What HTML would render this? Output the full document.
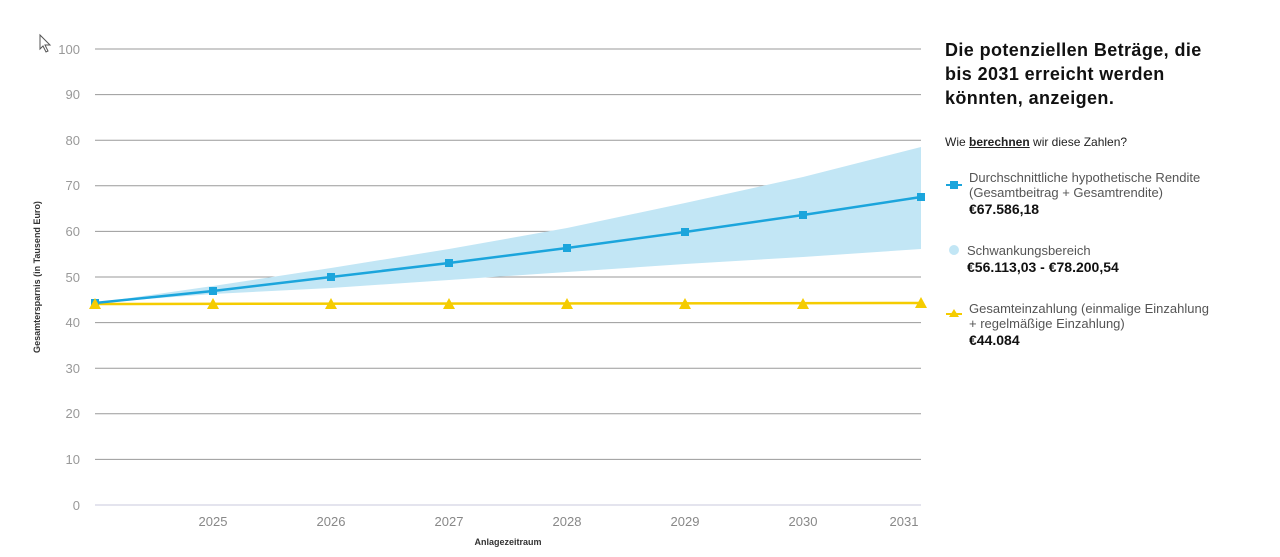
<!DOCTYPE html>
<html><head><meta charset="utf-8"><style>
body{margin:0;width:1280px;height:557px;background:#fff;font-family:"Liberation Sans",sans-serif;overflow:hidden;position:relative}
.t{position:absolute;color:#222}
</style></head><body>
<svg width="1280" height="557" style="position:absolute;left:0;top:0" font-family="Liberation Sans, sans-serif">
<g stroke="#9a9a9a" stroke-width="1">
<line x1="95" x2="921" y1="49" y2="49"/><line x1="95" x2="921" y1="94.6" y2="94.6"/><line x1="95" x2="921" y1="140.2" y2="140.2"/><line x1="95" x2="921" y1="185.8" y2="185.8"/><line x1="95" x2="921" y1="231.4" y2="231.4"/><line x1="95" x2="921" y1="277" y2="277"/><line x1="95" x2="921" y1="322.6" y2="322.6"/><line x1="95" x2="921" y1="368.2" y2="368.2"/><line x1="95" x2="921" y1="413.8" y2="413.8"/><line x1="95" x2="921" y1="459.4" y2="459.4"/>
</g>
<line x1="95" x2="921" y1="505" y2="505" stroke="#e4e4ee" stroke-width="2"/>
<g fill="#999" font-size="13" text-anchor="end">
<text x="80" y="54">100</text><text x="80" y="99">90</text><text x="80" y="145">80</text><text x="80" y="190">70</text><text x="80" y="236">60</text><text x="80" y="282">50</text><text x="80" y="327">40</text><text x="80" y="373">30</text><text x="80" y="418">20</text><text x="80" y="464">10</text><text x="80" y="510">0</text>
</g>
<g fill="#888" font-size="13" text-anchor="middle">
<text x="213" y="526">2025</text><text x="331" y="526">2026</text><text x="449" y="526">2027</text><text x="567" y="526">2028</text><text x="685" y="526">2029</text><text x="803" y="526">2030</text><text x="904" y="526">2031</text>
</g>
<text x="508" y="545" font-size="9" font-weight="bold" fill="#333" text-anchor="middle">Anlagezeitraum</text>
<text transform="translate(40,277) rotate(-90)" font-size="9" font-weight="bold" fill="#333" text-anchor="middle">Gesamtersparnis (in Tausend Euro)</text>
<polygon fill="#c2e6f5" points="95,303 213,286 331,268 449,249 567,228 685,203 803,177 921,147 921,249 803,257 685,264 567,272 449,280 331,288 213,294"/>
<polyline fill="none" stroke="#f5cc00" stroke-width="2.5" points="95,304 921,303"/>
<polyline fill="none" stroke="#1ba5dc" stroke-width="2.5" points="95,303 213,291 331,277 449,263 567,248 685,232 803,215 921,197"/>
<g fill="#1ba5dc">
<rect x="91" y="299" width="8" height="8"/><rect x="209" y="287" width="8" height="8"/><rect x="327" y="273" width="8" height="8"/><rect x="445" y="259" width="8" height="8"/><rect x="563" y="244" width="8" height="8"/><rect x="681" y="228" width="8" height="8"/><rect x="799" y="211" width="8" height="8"/><rect x="917" y="193" width="8" height="8"/>
</g>
<g fill="#f5cc00">
<polygon points="95,298 101,309 89,309"/><polygon points="213,298 219,309 207,309"/><polygon points="331,298 337,309 325,309"/><polygon points="449,298 455,309 443,309"/><polygon points="567,298 573,309 561,309"/><polygon points="685,298 691,309 679,309"/><polygon points="803,298 809,309 797,309"/><polygon points="921,297 927,308 915,308"/>
</g>
<path d="M40,35 L40,49 L43,46 L46,52 L48,51 L45,45 L50,45 Z" fill="#fff" stroke="#555" stroke-width="1"/>
<line x1="946" x2="962" y1="185" y2="185" stroke="#1ba5dc" stroke-width="2"/><rect x="950" y="181" width="8" height="8" fill="#1ba5dc"/>
<circle cx="954" cy="250" r="5" fill="#c2e6f5"/>
<line x1="946" x2="962" y1="314" y2="314" stroke="#f5cc00" stroke-width="2"/><polygon points="954,309 959,317 949,317" fill="#f5cc00"/>
</svg>
<div class="t" style="left:945px;top:38px;font-size:18px;font-weight:bold;line-height:24px;letter-spacing:0.4px;color:#111">Die potenziellen Beträge, die<br>bis 2031 erreicht werden<br>könnten, anzeigen.</div>
<div class="t" style="left:945px;top:135px;font-size:12px">Wie <b style="text-decoration:underline">berechnen</b> wir diese Zahlen?</div>
<div class="t" style="left:969px;top:170px;font-size:13px;line-height:15px;color:#555">Durchschnittliche hypothetische Rendite<br>(Gesamtbeitrag + Gesamtrendite)<br><b style="color:#111;font-size:14px;line-height:19px">€67.586,18</b></div>
<div class="t" style="left:967px;top:243px;font-size:13px;line-height:15px;color:#555">Schwankungsbereich<br><b style="color:#111;font-size:14px;line-height:19px">€56.113,03 - €78.200,54</b></div>
<div class="t" style="left:969px;top:301px;font-size:13px;line-height:15px;color:#555">Gesamteinzahlung (einmalige Einzahlung<br>+ regelmäßige Einzahlung)<br><b style="color:#111;font-size:14px;line-height:19px">€44.084</b></div>
</body></html>
